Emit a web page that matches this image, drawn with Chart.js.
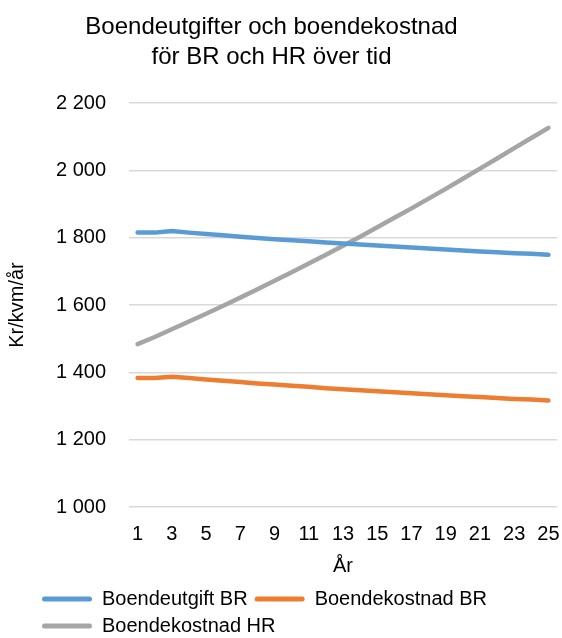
<!DOCTYPE html>
<html>
<head>
<meta charset="utf-8">
<script src="https://cdn.jsdelivr.net/npm/chart.js@4/dist/chart.umd.min.js"></script>
<style>
    html, body { margin: 0; padding: 0; background: #fff; }
    #wrap { width: 562px; height: 638px; }
</style>
</head>
<body>
<div id="wrap"><canvas id="chart" width="562" height="638"></canvas></div>
<script>
'use strict';

// år 1..25
const years = ['1', '2', '3', '4', '5', '6', '7', '8', '9', '10', '11', '12', '13',
    '14', '15', '16', '17', '18', '19', '20', '21', '22', '23', '24', '25'];

const boendeutgiftBR = [1815, 1815, 1820, 1815, 1811, 1807, 1803, 1799, 1795, 1792, 1789, 1786, 1783,
    1780, 1777, 1774, 1771, 1768, 1765, 1762, 1759, 1757, 1754, 1752, 1749];

const boendekostnadBR = [1383, 1383, 1387, 1383, 1379, 1375, 1371, 1367, 1364, 1360, 1357, 1353, 1350,
    1347, 1344, 1341, 1338, 1335, 1332, 1329, 1327, 1324, 1321, 1319, 1316];

const boendekostnadHR = [1484, 1505, 1528, 1551, 1574, 1598, 1622, 1647, 1672, 1697, 1723, 1749, 1776,
    1803, 1831, 1859, 1887, 1916, 1945, 1975, 2005, 2035, 2066, 2096, 2126];

const seriesNames = ['Boendeutgift BR', 'Boendekostnad BR', 'Boendekostnad HR'];
const titleLines = ['Boendeutgifter och boendekostnad', 'för BR och HR över tid'];
const yTitle = 'Kr/kvm/år';
const xTitle = 'År';

const FONT = "'Liberation Sans', Arial, sans-serif";

function lineSet(label, data, color) {
    return {
        label: label,
        data: data,
        borderColor: color,
        backgroundColor: color,
        borderWidth: 4.5,
        borderCapStyle: 'round',
        borderJoinStyle: 'round',
        pointRadius: 0,
        pointHoverRadius: 0,
        tension: 0
    };
}

// move the legend block a bit right, like the original
const legendShift = {
    id: 'legendShift',
    afterLayout(chart) {
        chart.legend.left += 49;
    }
};

new Chart(document.getElementById('chart'), {
    type: 'line',
    data: {
        labels: years,
        datasets: [
            lineSet(seriesNames[0], boendeutgiftBR, '#5B9BD5'),
            lineSet(seriesNames[1], boendekostnadBR, '#ED7D31'),
            lineSet(seriesNames[2], boendekostnadHR, '#A5A5A5')
        ]
    },
    plugins: [legendShift],
    options: {
        responsive: false,
        animation: false,
        layout: { padding: { left: -14, right: 5, top: 0, bottom: -8 } },
        plugins: {
            title: {
                display: true,
                text: titleLines,
                color: '#000',
                font: { family: FONT, size: 24, weight: 'normal', lineHeight: 1.25 },
                padding: { top: 12, bottom: 31 }
            },
            legend: {
                position: 'bottom',
                align: 'start',
                labels: {
                    color: '#000',
                    font: { family: FONT, size: 20 },
                    boxWidth: 50,
                    boxHeight: 5,
                    padding: 7,
                    useBorderRadius: true,
                    borderRadius: 2.5,
                    generateLabels(chart) {
                        const items = Chart.defaults.plugins.legend.labels.generateLabels(chart);
                        return items.map(it => ({ ...it, lineWidth: 0 }));
                    }
                }
            },
            tooltip: { enabled: false }
        },
        scales: {
            x: {
                offset: true,
                grid: { display: false, drawTicks: true, tickLength: 14 },
                border: { display: false },
                ticks: {
                    color: '#000',
                    font: { family: FONT, size: 20 },
                    padding: 1,
                    autoSkip: false,
                    maxRotation: 0,
                    callback: function (value, index) {
                        return index % 2 === 0 ? this.getLabelForValue(value) : '';
                    }
                },
                title: {
                    display: true,
                    text: xTitle,
                    color: '#000',
                    font: { family: FONT, size: 20 },
                    padding: { top: 7, bottom: 4 }
                }
            },
            y: {
                min: 1000,
                max: 2200,
                grid: { color: '#d9d9d9', lineWidth: 1.5, drawTicks: false },
                border: { display: false },
                ticks: {
                    stepSize: 200,
                    color: '#000',
                    font: { family: FONT, size: 20 },
                    padding: 23,
                    callback: function (value) {
                        const s = String(value);
                        return s.length > 3 ? s.slice(0, -3) + ' ' + s.slice(-3) : s;
                    }
                },
                title: {
                    display: true,
                    text: yTitle,
                    color: '#000',
                    font: { family: FONT, size: 20 },
                    padding: { top: 19, bottom: 4 }
                }
            }
        }
    }
});
</script>
</body>
</html>
